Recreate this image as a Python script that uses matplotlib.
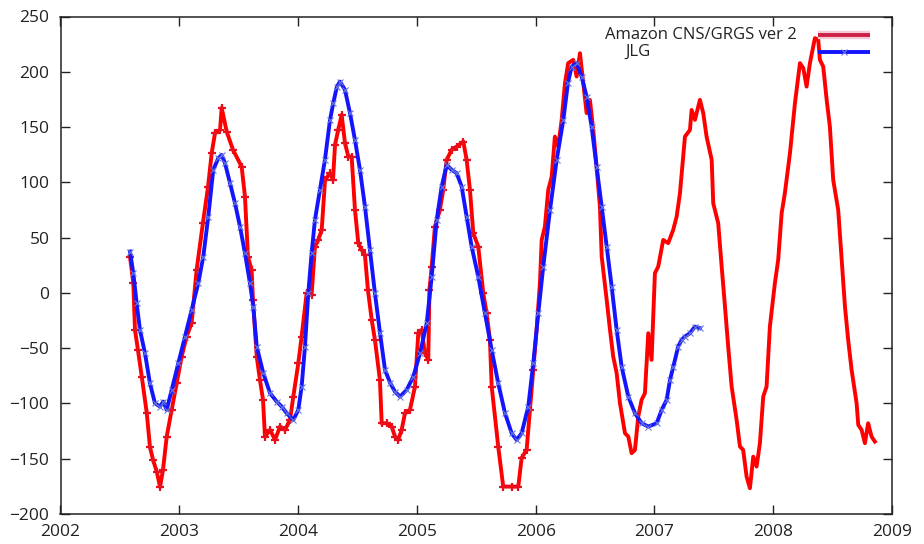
import matplotlib
matplotlib.use("Agg")
import matplotlib.pyplot as plt
import numpy as np

# ---------------- data ----------------
red_years = [
    2002.585, 2002.613, 2002.627, 2002.652, 2002.684, 2002.726, 2002.753, 2002.779, 2002.810, 2002.838,
    2002.863, 2002.894, 2002.936, 2002.978, 2003.020, 2003.062, 2003.104, 2003.146, 2003.199, 2003.242,
    2003.273, 2003.301, 2003.343, 2003.357, 2003.399, 2003.452, 2003.525, 2003.553, 2003.578, 2003.609,
    2003.620, 2003.652, 2003.679, 2003.705, 2003.721, 2003.764, 2003.806, 2003.848, 2003.890, 2003.932,
    2003.960, 2004.002, 2004.030, 2004.072, 2004.114, 2004.142, 2004.170, 2004.199, 2004.227, 2004.269,
    2004.294, 2004.311, 2004.338, 2004.367, 2004.395, 2004.423, 2004.451, 2004.479, 2004.507, 2004.535,
    2004.563, 2004.588, 2004.620, 2004.647, 2004.689, 2004.704, 2004.746, 2004.788, 2004.816, 2004.843,
    2004.872, 2004.900, 2004.942, 2004.984, 2005.012, 2005.040, 2005.068, 2005.096, 2005.106, 2005.125,
    2005.152, 2005.194, 2005.222, 2005.251, 2005.293, 2005.335, 2005.391, 2005.419, 2005.447, 2005.475,
    2005.517, 2005.559, 2005.588, 2005.615, 2005.630, 2005.685, 2005.727, 2005.798, 2005.854, 2005.882,
    2005.924, 2005.952, 2005.980, 2006.008, 2006.036, 2006.051, 2006.078, 2006.106, 2006.135, 2006.162,
    2006.190, 2006.219, 2006.247, 2006.274, 2006.316, 2006.345, 2006.373, 2006.401, 2006.429, 2006.457,
    2006.485, 2006.513, 2006.541, 2006.556, 2006.598, 2006.626, 2006.653, 2006.682, 2006.710, 2006.752,
    2006.780, 2006.808, 2006.836, 2006.864, 2006.892, 2006.920, 2006.948, 2006.976, 2007.004, 2007.032,
    2007.074, 2007.116, 2007.158, 2007.187, 2007.215, 2007.257, 2007.299, 2007.313, 2007.341, 2007.383,
    2007.411, 2007.439, 2007.482, 2007.495, 2007.537, 2007.566, 2007.594, 2007.621, 2007.650, 2007.692,
    2007.720, 2007.747, 2007.776, 2007.804, 2007.832, 2007.860, 2007.888, 2007.916, 2007.944, 2007.972,
    2008.014, 2008.042, 2008.071, 2008.098, 2008.141, 2008.183, 2008.225, 2008.253, 2008.281, 2008.309,
    2008.337, 2008.351, 2008.379, 2008.393, 2008.421, 2008.450, 2008.477, 2008.505, 2008.547, 2008.576,
    2008.604, 2008.631, 2008.660, 2008.702, 2008.716, 2008.744, 2008.772, 2008.799, 2008.828, 2008.856,
]
red_values = [
    32.6, 8.8, -33.5, -51.6, -75.7, -108.5, -139.3, -151.0, -161.6, -175.5,
    -160.1, -130.0, -105.8, -81.7, -57.6, -39.5, -27.1, 20.8, 63.3, 95.9,
    126.6, 144.7, 147.4, 167.3, 145.9, 129.4, 114.2, 87.1, 32.8, 20.8,
    -6.3, -57.6, -78.7, -96.8, -130.0, -123.9, -132.9, -120.9, -123.9, -114.9,
    -93.8, -63.6, -39.5, -0.3, -1.8, 41.9, 47.9, 57.0, 102.2, 108.3,
    102.2, 133.9, 147.4, 161.0, 135.4, 123.3, 123.3, 75.1, 45.0, 38.9,
    34.4, 2.7, -24.4, -42.5, -78.7, -117.9, -117.9, -120.9, -130.0, -133.0,
    -123.9, -108.8, -105.8, -84.8, -36.5, -33.5, -54.3, -60.6, 2.7, 23.8,
    60.0, 75.1, 93.2, 120.3, 129.4, 132.3, 136.9, 120.3, 93.2, 54.0,
    41.9, -0.3, -18.4, -42.5, -84.8, -139.0, -175.2, -175.2, -175.2, -149.3,
    -142.0, -105.8, -69.7, -33.5, 8.8, 47.9, 60.0, 93.2, 105.2, 141.4,
    132.3, 156.5, 189.7, 207.8, 210.8, 195.7, 216.8, 189.7, 162.6, 174.6,
    147.4, 114.2, 78.1, 32.8, -6.3, -33.5, -57.6, -72.6, -99.8, -126.9,
    -130.0, -145.0, -142.0, -111.9, -96.8, -90.7, -36.5, -60.6, 17.8, 23.8,
    47.9, 45.0, 57.0, 69.0, 90.2, 141.4, 147.4, 165.5, 156.5, 174.6,
    162.6, 141.4, 120.3, 81.1, 63.0, 23.8, -12.4, -48.6, -84.8, -114.9,
    -139.0, -142.0, -166.2, -176.7, -148.1, -157.1, -136.0, -93.8, -84.8, -30.5,
    8.8, 29.9, 72.1, 90.2, 126.4, 171.6, 207.8, 203.3, 186.6, 207.8,
    222.8, 230.4, 228.9, 210.8, 204.7, 174.6, 150.4, 102.2, 75.1, 29.9,
    -12.4, -42.5, -69.7, -99.8, -119.4, -123.9, -136.0, -117.9, -130.0, -134.5,
]

jlg_years = [
    2002.585, 2002.613, 2002.641, 2002.669, 2002.711, 2002.753, 2002.795, 2002.838, 2002.865, 2002.894,
    2002.936, 2002.992, 2003.048, 2003.104, 2003.160, 2003.202, 2003.244, 2003.286, 2003.328, 2003.357,
    2003.385, 2003.427, 2003.469, 2003.511, 2003.553, 2003.595, 2003.623, 2003.652, 2003.707, 2003.764,
    2003.820, 2003.862, 2003.904, 2003.960, 2004.002, 2004.030, 2004.058, 2004.086, 2004.114, 2004.142,
    2004.184, 2004.226, 2004.269, 2004.296, 2004.327, 2004.353, 2004.395, 2004.437, 2004.479, 2004.521,
    2004.563, 2004.605, 2004.647, 2004.690, 2004.732, 2004.775, 2004.817, 2004.859, 2004.915, 2004.970,
    2005.027, 2005.083, 2005.125, 2005.167, 2005.209, 2005.251, 2005.293, 2005.335, 2005.377, 2005.419,
    2005.461, 2005.517, 2005.573, 2005.630, 2005.685, 2005.742, 2005.798, 2005.840, 2005.882, 2005.938,
    2005.980, 2006.022, 2006.064, 2006.121, 2006.177, 2006.233, 2006.272, 2006.303, 2006.345, 2006.387,
    2006.429, 2006.471, 2006.513, 2006.556, 2006.598, 2006.640, 2006.682, 2006.724, 2006.780, 2006.836,
    2006.892, 2006.948, 2007.019, 2007.061, 2007.103, 2007.131, 2007.159, 2007.200, 2007.229, 2007.257,
    2007.299, 2007.341, 2007.383,
]
jlg_values = [
    37.4, 17.8, -9.3, -33.5, -54.5, -81.7, -99.8, -102.8, -98.3, -105.8,
    -87.7, -63.6, -39.5, -15.4, 8.8, 32.8, 69.0, 111.3, 121.8, 124.8,
    117.3, 99.2, 81.1, 60.0, 35.9, 8.8, -12.4, -48.6, -72.6, -90.7,
    -98.3, -102.8, -108.8, -114.9, -105.8, -84.8, -48.6, -0.3, 35.9, 66.0,
    93.2, 120.3, 156.5, 171.6, 186.6, 191.1, 183.6, 162.6, 138.4, 111.3,
    78.1, 38.9, -0.3, -36.5, -69.7, -81.4, -89.6, -93.8, -87.7, -75.7,
    -54.5, -27.4, 14.7, 66.0, 96.2, 115.8, 111.3, 108.3, 96.2, 69.0,
    41.9, 14.7, -18.4, -51.6, -81.7, -108.8, -126.9, -133.0, -126.9, -102.8,
    -63.6, -18.4, 23.8, 75.1, 120.3, 156.5, 190.0, 204.7, 207.8, 195.7,
    177.6, 150.4, 114.2, 78.1, 41.9, 5.7, -33.5, -66.7, -93.8, -108.8,
    -117.9, -120.9, -117.9, -105.8, -96.8, -78.7, -66.7, -48.6, -42.5, -39.5,
    -36.5, -30.5, -31.9,
]

x_ticks = [2002, 2003, 2004, 2005, 2006, 2007, 2008, 2009]
y_ticks = [-200, -150, -100, -50, 0, 50, 100, 150, 200, 250]
series_labels = ["Amazon CNS/GRGS ver 2", "JLG"]

# ---------------- figure ----------------
plt.rcParams["font.family"] = ["Open Sans", "DejaVu Sans"]

fig = plt.figure(figsize=(9.24, 5.44), dpi=100)
ax = fig.add_axes([60.5 / 924, 30 / 544, 831.5 / 924, 497.5 / 544])

red = "#ff0000"
blue = "#1414ff"

ry = np.array(red_years)
rv = np.array(red_values)
ax.plot(ry, rv, color=red, lw=2.8, solid_joinstyle="round", zorder=2)
mask = ry < 2006.0
ax.plot(ry[mask], rv[mask], ls="none", marker="+", ms=6, mew=1.6,
        color="#e8101c", zorder=2)

ax.plot(jlg_years, jlg_values, color=blue, lw=2.8, solid_joinstyle="round",
        marker="x", ms=4.5, mew=0.8, mec="#6a7ad8", zorder=3)

ax.set_xlim(2002, 2009)
ax.set_ylim(-200, 250)
ax.set_xticks(x_ticks)
ax.set_yticks(y_ticks)
ax.tick_params(direction="in", length=6.5, width=1, top=True, right=True,
               labelsize=12.5, colors="#222222")
ax.tick_params(axis="y", pad=8)
ax.tick_params(axis="x", pad=7)
for s in ax.spines.values():
    s.set_linewidth(1.1)
    s.set_color("#222222")

# gnuplot-style key: text then line sample, top right
ax.text(0.886, 0.963, series_labels[0], transform=ax.transAxes, ha="right",
        va="center", fontsize=12, color="#222222")
ax.text(0.679, 0.929, series_labels[1], transform=ax.transAxes, ha="left",
        va="center", fontsize=12, color="#222222")
ax.plot([0.911, 0.973], [0.963, 0.963], transform=ax.transAxes, color="#f4c8d4",
        lw=6, clip_on=False, zorder=4, solid_capstyle="butt")
ax.plot([0.911, 0.973], [0.963, 0.963], transform=ax.transAxes, color="#cc2048",
        lw=2.8, clip_on=False, zorder=5, solid_capstyle="butt")
ax.plot([0.911, 0.973], [0.929, 0.929], transform=ax.transAxes, color=blue,
        lw=2.8, clip_on=False, zorder=5, solid_capstyle="butt")
ax.plot([0.942], [0.929], transform=ax.transAxes, color=blue, marker="x",
        ms=4.5, mew=0.8, mec="#6a7ad8", ls="none", clip_on=False, zorder=6)

fig.savefig("out.png", dpi=100, facecolor="white")
